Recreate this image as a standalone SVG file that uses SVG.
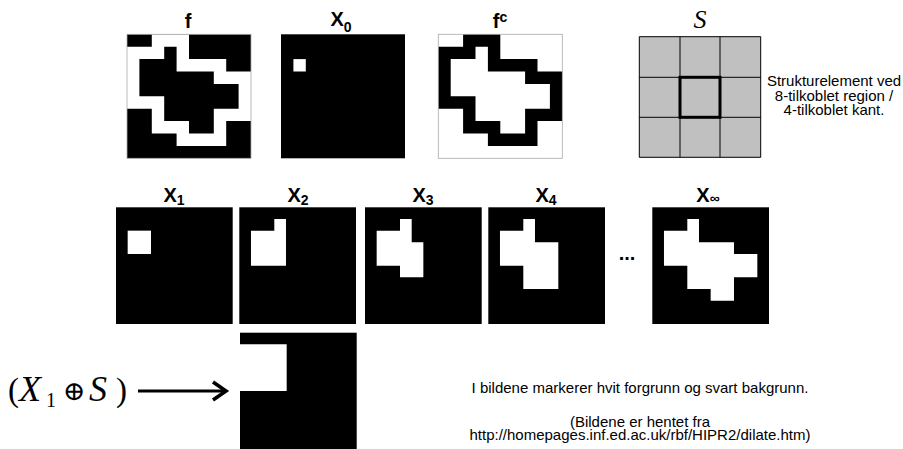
<svg xmlns="http://www.w3.org/2000/svg" xmlns:xlink="http://www.w3.org/1999/xlink" width="903" height="449" viewBox="0 0 903 449">
<style>
.lbl{font-family:"Liberation Sans",Arial,sans-serif;font-weight:bold;font-size:20px;fill:#000}
.sub{font-size:14px}
.txt{font-family:"Liberation Sans",Arial,sans-serif;font-size:15px;fill:#000}
.math{font-family:"Liberation Serif","Times New Roman",serif;fill:#000}
.it{font-style:italic}
.grid{fill:none;stroke:#000;stroke-width:1}
</style>
<defs>
<path id="ring" d="M2 0h3v1h-3z M0 1h3v1h-3z M4 1h1v1h-1z M0 2h1v1h-1z M4 2h4v1h-4z M0 3h1v1h-1z M7 3h3v1h-3z M0 4h1v1h-1z M9 4h1v1h-1z M0 5h3v1h-3z M9 5h1v1h-1z M2 6h1v1h-1z M7 6h3v1h-3z M2 7h3v1h-3z M7 7h1v1h-1z M4 8h4v1h-4z"/>
<path id="inner" d="M3 1h1v1h-1z M1 2h3v1h-3z M1 3h6v1h-6z M1 4h8v1h-8z M3 5h6v1h-6z M3 6h4v1h-4z M5 7h2v1h-2z"/>
</defs>

<g id="node-f">
<rect x="127" y="34.3" width="124" height="124" fill="#000"/>
<use xlink:href="#ring" href="#ring" transform="translate(127,34.3) scale(12.4)" fill="#fff"/>
<rect x="127" y="34.3" width="124" height="124" fill="none" stroke="#aaa" stroke-width="0.8"/>
<text class="lbl" x="188" y="28" text-anchor="middle">f</text>
</g>

<g id="node-x0">
<rect x="281" y="34.3" width="124" height="124" fill="#000"/>
<path d="M1 2h1v1h-1z" transform="translate(281,34.3) scale(12.4)" fill="#fff"/>
<text class="lbl" x="341" y="26" text-anchor="middle">X<tspan class="sub" dy="6">0</tspan></text>
</g>

<g id="node-fc">
<rect x="438.3" y="34.3" width="124" height="124" fill="#fff"/>
<use xlink:href="#ring" href="#ring" transform="translate(438.3,34.3) scale(12.4)" fill="#000"/>
<rect x="438.3" y="34.3" width="124" height="124" fill="none" stroke="#aaa" stroke-width="0.8"/>
<text class="lbl" x="500" y="28" text-anchor="middle">f<tspan class="sub" dy="-6">c</tspan></text>
</g>

<g id="node-s">
<rect x="639.3" y="36.7" width="121.4" height="120.6" fill="#c0c0c0"/>
<path class="grid" d="M639.3 36.7h121.4v120.6h-121.4z M680 36.7v120.6 M720 36.7v120.6 M639.3 77.3h121.4 M639.3 117.3h121.4"/>
<rect x="680" y="77.3" width="40" height="40" fill="none" stroke="#000" stroke-width="3"/>
<text class="math it" x="700" y="28" font-size="26" text-anchor="middle">S</text>
<text class="txt" text-anchor="middle"><tspan x="834" y="86">Strukturelement ved</tspan><tspan x="834" y="100.5">8-tilkoblet region /</tspan><tspan x="834" y="115">4-tilkoblet kant.</tspan></text>
</g>

<g id="node-x1">
<rect x="116" y="207.3" width="116.7" height="116.7" fill="#000"/>
<path d="M1 2h2v2h-2z" transform="translate(116,207.3) scale(11.67)" fill="#fff"/>
<text class="lbl" x="174" y="202" text-anchor="middle">X<tspan class="sub" dy="3">1</tspan></text>
</g>

<g id="node-x2">
<rect x="239.3" y="207.3" width="116.7" height="116.7" fill="#000"/>
<path d="M3 1h1v1h-1z M1 2h3v3h-3z" transform="translate(239.3,207.3) scale(11.67)" fill="#fff"/>
<text class="lbl" x="298" y="202" text-anchor="middle">X<tspan class="sub" dy="3">2</tspan></text>
</g>

<g id="node-x3">
<rect x="365" y="207.3" width="116.7" height="116.7" fill="#000"/>
<path d="M3 1h1v1h-1z M1 2h3v1h-3z M1 3h4v2h-4z M3 5h2v1h-2z" transform="translate(365,207.3) scale(11.67)" fill="#fff"/>
<text class="lbl" x="423" y="202" text-anchor="middle">X<tspan class="sub" dy="3">3</tspan></text>
</g>

<g id="node-x4">
<rect x="488.3" y="207.3" width="116.7" height="116.7" fill="#000"/>
<path d="M3 1h1v1h-1z M1 2h3v1h-3z M1 3h5v2h-5z M3 5h3v2h-3z" transform="translate(488.3,207.3) scale(11.67)" fill="#fff"/>
<text class="lbl" x="546" y="202" text-anchor="middle">X<tspan class="sub" dy="3">4</tspan></text>
</g>

<g id="node-dots">
<text class="lbl" x="627" y="260" font-size="22" text-anchor="middle">...</text>
</g>

<g id="node-xinf">
<rect x="652.3" y="207.3" width="116.7" height="116.7" fill="#000"/>
<use xlink:href="#inner" href="#inner" transform="translate(652.3,207.3) scale(11.67)" fill="#fff"/>
<text class="lbl" x="708" y="202" text-anchor="middle">X<tspan class="sub" font-size="11" dy="1">∞</tspan></text>
</g>

<g id="node-dil">
<rect x="240" y="332.7" width="116.7" height="116.7" fill="#000"/>
<path d="M0 1h4v4h-4z" transform="translate(240,332.7) scale(11.67)" fill="#fff"/>
</g>

<g id="node-formula">
<text class="math" font-size="33" y="401"><tspan x="8">(</tspan><tspan class="it" x="19" font-size="36">X</tspan><tspan x="46" y="407" font-size="20">1</tspan><tspan x="63" y="400" font-family="'DejaVu Serif','DejaVu Sans',serif" font-size="27">⊕</tspan><tspan class="it" x="89" y="401" font-size="36">S</tspan><tspan x="116">)</tspan></text>
</g>

<g id="connectors">
<path d="M138 391H223" stroke="#000" stroke-width="3.2" fill="none"/>
<path d="M213 382L226 391L213 400" stroke="#000" stroke-width="3.6" fill="none" stroke-linejoin="miter"/>
</g>

<g id="notes">
<text class="txt" text-anchor="middle"><tspan x="640" y="393">I bildene markerer hvit forgrunn og svart bakgrunn.</tspan><tspan x="640" y="427">(Bildene er hentet fra</tspan><tspan x="640" y="440">http://homepages.inf.ed.ac.uk/rbf/HIPR2/dilate.htm)</tspan></text>
</g>
</svg>
